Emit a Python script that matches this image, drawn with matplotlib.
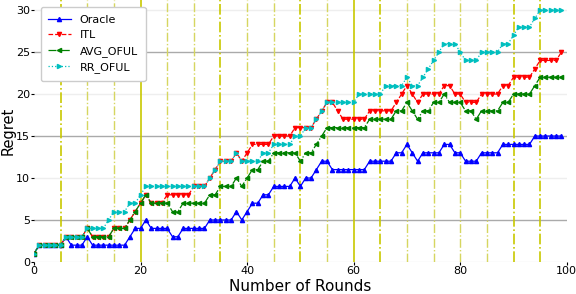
import matplotlib
matplotlib.use("Agg")
import matplotlib.pyplot as plt
import numpy as np

rounds = np.arange(100)

oracle = ([1] + [2]*5 + [3] + [2]*3 + [3] + [2]*7 + [3] + [4]*2 + [5] + [4]*4 + [3]*2
          + [4]*5 + [5]*5 + [6] + [5] + [6] + [7]*2 + [8]*2 + [9]*4 + [10] + [9] + [10]*2
          + [11] + [12]*2 + [11]*7 + [12]*5 + [13]*2 + [14] + [13] + [12] + [13]*4
          + [14]*2 + [13]*2 + [12]*3 + [13]*4 + [14]*6 + [15]*6)

itl = ([1] + [2]*5 + [3]*4 + [4] + [3]*4 + [4]*3 + [5] + [6] + [7] + [8] + [7]*3
       + [8]*5 + [9]*3 + [10] + [11] + [12]*3 + [13] + [12] + [13] + [14]*4 + [15]*4
       + [16]*4 + [17] + [18] + [19]*2 + [18] + [17]*5 + [18]*5 + [19] + [20] + [21]
       + [20] + [19] + [20]*4 + [21]*2 + [20]*2 + [19]*3 + [20]*4 + [21]*2 + [22]*4
       + [23] + [24]*4 + [25])

avg_oful = ([1] + [2]*5 + [3]*4 + [4] + [3]*4 + [4]*3 + [5] + [6] + [7] + [8] + [7]*4
            + [6]*2 + [7]*5 + [8]*2 + [9]*3 + [10] + [9] + [10] + [11]*2 + [12]*2
            + [13]*5 + [12] + [13]*2 + [14] + [15] + [16]*8 + [17]*5 + [18]*2 + [19]
            + [18] + [17] + [18]*2 + [19]*2 + [20] + [19]*3 + [18]*2 + [17] + [18]*4
            + [19]*2 + [20]*4 + [21] + [22]*5)

rr_oful = ([1] + [2]*5 + [3]*4 + [4]*4 + [5] + [6]*3 + [7]*2 + [8] + [9]*12 + [10]
           + [11] + [12]*3 + [13] + [12]*4 + [13]*2 + [14]*4 + [15]*2 + [16]*2 + [17]
           + [18] + [19]*6 + [20]*5 + [21]*4 + [22] + [21]*2 + [22] + [23] + [24] + [25]
           + [26]*3 + [25] + [24]*3 + [25]*4 + [26]*2 + [27] + [28]*3 + [29] + [30]*5)

dark_lines = [5, 20, 35, 50, 60, 65, 90, 95]
light_lines = [10, 15, 25, 30, 40, 45, 55, 70, 75, 80, 85]

fig = plt.figure(figsize=(5.76, 2.94), dpi=100)
ax = fig.add_axes([0.059, 0.109, 0.925, 0.891])

for y in [5, 15, 25]:
    ax.axhline(y, color='#aaaaaa', lw=1, zorder=0)
for y in [0, 10, 20, 30]:
    ax.axhline(y, color='#eeeeee', lw=1, zorder=0)
for x in dark_lines:
    ls = '-' if x in (20, 60) else '-.'
    ax.axvline(x, color='#c8c800', lw=1.2, ls=ls, zorder=1)
for x in light_lines:
    ax.axvline(x, color='#d6d660', lw=1, ls='-.', zorder=1)

ax.plot(rounds, oracle, color='b', ls='-', marker='^', ms=3, lw=0.9, label='Oracle')
ax.plot(rounds, itl, color='r', ls='--', marker='v', ms=3, lw=0.9, label='ITL')
ax.plot(rounds, avg_oful, color='g', ls='-.', marker='<', ms=3, lw=0.9, label='AVG_OFUL')
ax.plot(rounds, rr_oful, color='c', ls=':', marker='>', ms=3, lw=0.9, label='RR_OFUL')

ax.set_xlim(0, 100)
ax.set_ylim(0, 31.2)
ax.set_xticks([0, 20, 40, 60, 80, 100])
ax.set_yticks([0, 5, 10, 15, 20, 25, 30])
ax.tick_params(labelsize=8, length=2, pad=1)
for s in ax.spines.values():
    s.set_visible(False)

ax.set_xlabel('Number of Rounds', fontsize=11)
ax.set_ylabel('Regret', fontsize=10.5)
ax.xaxis.set_label_coords(0.5, -0.066)
ax.yaxis.set_label_coords(-0.035, 0.5)
ax.legend(loc='upper left', fontsize=8, framealpha=1, borderpad=0.7,
          bbox_to_anchor=(0.002, 0.995))

fig.savefig('out.png', dpi=100)
